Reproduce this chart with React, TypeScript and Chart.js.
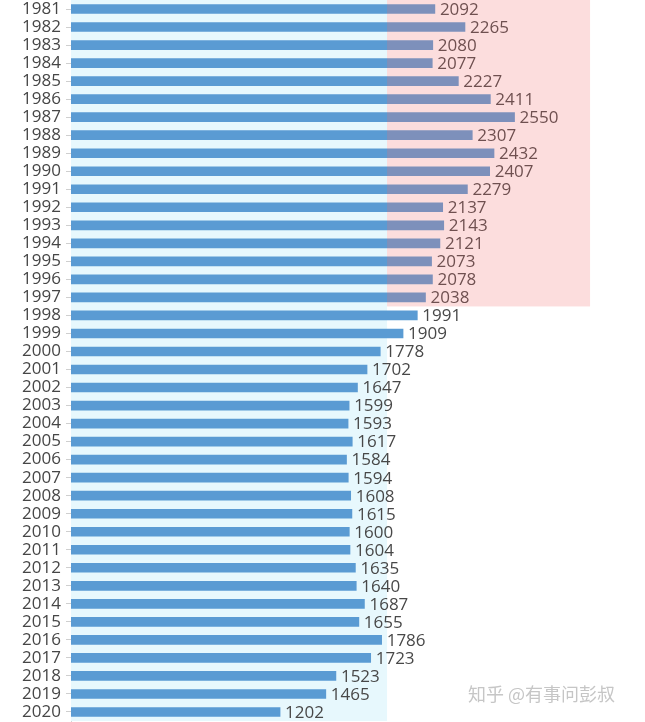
import React, { useEffect, useRef } from 'react';
import { Chart, registerables } from 'chart.js';

Chart.register(...registerables);

const years: string[] = [
  '1981', '1982', '1983', '1984', '1985', '1986', '1987', '1988', '1989', '1990',
  '1991', '1992', '1993', '1994', '1995', '1996', '1997', '1998', '1999', '2000',
  '2001', '2002', '2003', '2004', '2005', '2006', '2007', '2008', '2009', '2010',
  '2011', '2012', '2013', '2014', '2015', '2016', '2017', '2018', '2019', '2020',
];

const births: number[] = [
  2092, 2265, 2080, 2077, 2227, 2411, 2550, 2307, 2432, 2407,
  2279, 2137, 2143, 2121, 2073, 2078, 2038, 1991, 1909, 1778,
  1702, 1647, 1599, 1593, 1617, 1584, 1594, 1608, 1615, 1600,
  1604, 1635, 1640, 1687, 1655, 1786, 1723, 1523, 1465, 1202,
];

// highlighted block (years and value range)
const highlightYears: string[] = ['1981', '1997'];
const highlightRange: number[] = [1817, 2984];
// light background band in value units
const shadeRange: number[] = [0, 1817];

const watermark = '知乎 @有事问彭叔';

export default function App() {
  const ref = useRef<HTMLCanvasElement>(null);

  useEffect(() => {
    document.body.style.margin = '0';
    const canvas = ref.current;
    if (!canvas) return;

    const plugin = {
      id: 'decor',
      beforeDatasetsDraw(chart: any) {
        const { ctx, chartArea: a, scales } = chart;
        const x = scales.x;
        ctx.save();
        ctx.fillStyle = '#e7f8fd';
        const x0 = x.getPixelForValue(shadeRange[0]);
        const x1 = x.getPixelForValue(shadeRange[1]);
        ctx.fillRect(x0, a.top, x1 - x0, a.bottom - a.top);
        ctx.restore();
      },
      afterDatasetsDraw(chart: any) {
        const { ctx, scales } = chart;
        const meta = chart.getDatasetMeta(0);
        ctx.save();
        ctx.font = '17px "Open Sans"';
        ctx.fillStyle = '#484848';
        ctx.textAlign = 'left';
        ctx.textBaseline = 'middle';
        meta.data.forEach((bar: any, i: number) => {
          ctx.fillText(String(births[i]), bar.x + 5, bar.y + 1);
        });
        // pink overlay
        const y = scales.y;
        const x = scales.x;
        const i0 = years.indexOf(highlightYears[0]);
        const i1 = years.indexOf(highlightYears[1]);
        const band = y.getPixelForValue(1) - y.getPixelForValue(0);
        const top = y.getPixelForValue(i0) - band / 2;
        const bottom = y.getPixelForValue(i1) + band / 2;
        const left = x.getPixelForValue(highlightRange[0]);
        const right = x.getPixelForValue(highlightRange[1]);
        ctx.fillStyle = 'rgba(242, 110, 110, 0.23)';
        ctx.fillRect(left, top, right - left, bottom - top);
        ctx.restore();
      },
    };

    const chart = new Chart(canvas, {
      type: 'bar',
      data: {
        labels: years,
        datasets: [
          {
            data: births,
            backgroundColor: '#5a9bd3',
            barThickness: 9,
          },
        ],
      },
      options: {
        indexAxis: 'y',
        animation: false,
        responsive: true,
        maintainAspectRatio: false,
        layout: { padding: { top: 0, bottom: 1, left: 0, right: 0 } },
        plugins: {
          legend: { display: false },
          tooltip: { enabled: false },
        },
        scales: {
          x: { display: false, min: 0, max: 3300 },
          y: {
            grid: {
              display: true,
              offset: false,
              drawOnChartArea: false,
              drawTicks: true,
              tickLength: 5,
              color: '#cfcfcf',
            },
            border: { display: true, color: '#d4d4d4' },
            ticks: {
              color: '#464646',
              font: { family: 'Open Sans', size: 17 },
              padding: 5,
              autoSkip: false,
            },
            afterFit: (s: any) => {
              s.width = 71;
              s.paddingTop = 0;
              s.paddingBottom = 0;
            },
          },
        },
      },
      plugins: [plugin],
    });

    return () => chart.destroy();
  }, []);

  return (
    <div style={{ position: 'fixed', left: 0, top: 0, width: 645, height: 722, background: '#ffffff' }}>
      <canvas ref={ref} />
      <span
        style={{
          position: 'absolute',
          left: 468,
          top: 683,
          fontFamily: '"Noto Sans CJK SC", sans-serif',
          fontSize: 18,
          lineHeight: '20px',
          color: '#c6c6c6',
          whiteSpace: 'nowrap',
        }}
      >
        {watermark}
      </span>
    </div>
  );
}
